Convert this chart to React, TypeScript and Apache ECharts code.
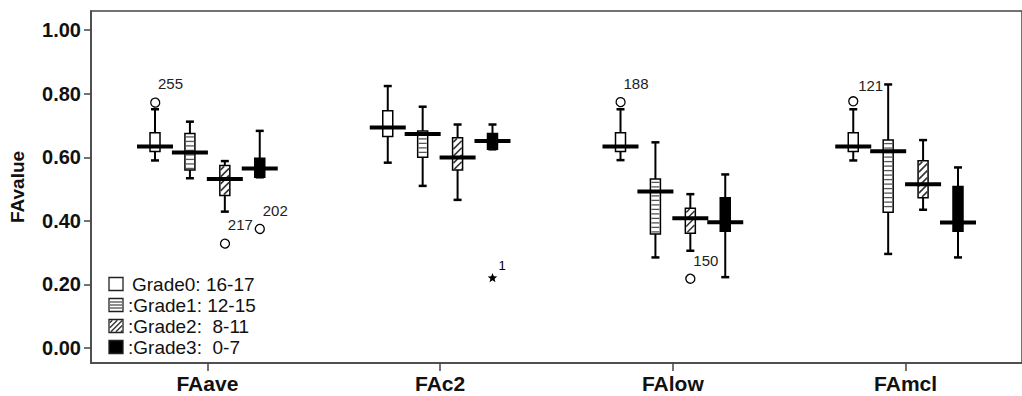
import React, { useEffect, useRef } from 'react';
import * as echarts from 'echarts';

const categories = ['FAave', 'FAc2', 'FAlow', 'FAmcl'];
const gradeNames = ['Grade0: 16-17', 'Grade1: 12-15', 'Grade2:  8-11', 'Grade3:  0-7'];

// [min, Q1, median, Q3, max] for each category
const grade0 = [
  [0.590, 0.618, 0.634, 0.677, 0.751],
  [0.583, 0.665, 0.694, 0.746, 0.824],
  [0.591, 0.618, 0.634, 0.677, 0.751],
  [0.590, 0.618, 0.634, 0.677, 0.751],
];
const grade1 = [
  [0.534, 0.560, 0.615, 0.675, 0.712],
  [0.510, 0.600, 0.673, 0.683, 0.759],
  [0.285, 0.359, 0.492, 0.532, 0.647],
  [0.296, 0.427, 0.619, 0.654, 0.829],
];
const grade2 = [
  [0.429, 0.480, 0.532, 0.574, 0.588],
  [0.466, 0.560, 0.599, 0.661, 0.703],
  [0.306, 0.361, 0.408, 0.440, 0.484],
  [0.435, 0.473, 0.515, 0.589, 0.654],
];
const grade3 = [
  [0.537, 0.537, 0.565, 0.597, 0.683],
  [0.625, 0.625, 0.651, 0.675, 0.703],
  [0.223, 0.367, 0.396, 0.473, 0.546],
  [0.285, 0.367, 0.395, 0.508, 0.568],
];
const grades = [grade0, grade1, grade2, grade3];

// outliers: [categoryIndex, gradeIndex, value, case label, kind]
const outliers: [number, number, number, string, string][] = [
  [0, 0, 0.776, '255', 'circle'],
  [0, 2, 0.332, '217', 'circle'],
  [0, 3, 0.377, '202', 'circle'],
  [1, 3, 0.220, '1', 'star'],
  [2, 0, 0.776, '188', 'circle'],
  [2, 2, 0.220, '150', 'circle'],
  [3, 0, 0.776, '', 'circle'],
  [3, 1, 0.829, '121', 'none'],
];

const yTicks = [0, 0.2, 0.4, 0.6, 0.8, 1.0];

const FONT = 'Liberation Sans, Arial, sans-serif';

function diagSegments(x0: number, y0: number, x1: number, y1: number, step: number) {
  const segs: any[] = [];
  for (let c = x0 + y0 + step / 2; c < x1 + y1; c += step) {
    const xa = Math.max(x0, c - y1);
    const xb = Math.min(x1, c - y0);
    if (xa < xb) segs.push({ x1: xa, y1: c - xa, x2: xb, y2: c - xb });
  }
  return segs;
}

function gradeOffset(gi: number, band: number) {
  return (gi - 1.5) * band * 0.15;
}

function makeBoxRenderer(gi: number) {
  return (params: any, api: any) => {
    const ci = api.value(0);
    const band = api.size([1, 0])[0];
    const cx = api.coord([ci, 0])[0] + gradeOffset(gi, band);
    const y = (v: number) => api.coord([ci, v])[1];
    const yMin = y(api.value(1));
    const yQ1 = y(api.value(2));
    const yMed = y(api.value(3));
    const yQ3 = y(api.value(4));
    const yMax = y(api.value(5));
    const bw = 10, cw = 8, mw = 36;
    const children: any[] = [];
    children.push({ type: 'line', shape: { x1: cx, y1: yMax, x2: cx, y2: yMin }, style: { stroke: '#000', lineWidth: 2 } });
    children.push({ type: 'line', shape: { x1: cx - cw / 2, y1: yMax, x2: cx + cw / 2, y2: yMax }, style: { stroke: '#000', lineWidth: 2.5 } });
    children.push({ type: 'line', shape: { x1: cx - cw / 2, y1: yMin, x2: cx + cw / 2, y2: yMin }, style: { stroke: '#000', lineWidth: 2.5 } });
    const bx0 = cx - bw / 2, bx1 = cx + bw / 2;
    children.push({
      type: 'rect',
      shape: { x: bx0, y: yQ3, width: bw, height: yQ1 - yQ3 },
      style: { fill: gi === 3 ? '#000' : '#fff', stroke: '#000', lineWidth: 1.5 },
    });
    if (gi === 1) {
      for (let yy = yQ3 + 3.5; yy < yQ1 - 1.5; yy += 4.5) {
        children.push({ type: 'line', shape: { x1: bx0 + 1, y1: yy, x2: bx1 - 1, y2: yy }, style: { stroke: '#555', lineWidth: 1.3 } });
      }
    }
    if (gi === 2) {
      diagSegments(bx0 + 0.8, yQ3 + 0.8, bx1 - 0.8, yQ1 - 0.8, 7).forEach((s) => {
        children.push({ type: 'line', shape: s, style: { stroke: '#333', lineWidth: 1.6 } });
      });
    }
    children.push({ type: 'line', shape: { x1: cx - mw / 2, y1: yMed, x2: cx + mw / 2, y2: yMed }, style: { stroke: '#000', lineWidth: 4 } });
    return { type: 'group', children };
  };
}

function starPoints(cx: number, cy: number, ro: number, ri: number) {
  const pts: number[][] = [];
  for (let i = 0; i < 10; i++) {
    const r = i % 2 === 0 ? ro : ri;
    const a = -Math.PI / 2 + (i * Math.PI) / 5;
    pts.push([cx + r * Math.cos(a), cy + r * Math.sin(a)]);
  }
  return pts;
}

function renderOutlier(params: any, api: any) {
  const ci = api.value(0);
  const gi = api.value(1);
  const v = api.value(2);
  const o = outliers[params.dataIndex];
  const label = o[3];
  const kind = o[4];
  const band = api.size([1, 0])[0];
  const cx = api.coord([ci, 0])[0] + gradeOffset(gi, band);
  const cy = api.coord([ci, v])[1];
  const children: any[] = [];
  const txtStyle = { fontSize: 15, fontFamily: FONT, fill: '#222', textVerticalAlign: 'middle' };
  if (kind === 'circle') {
    children.push({ type: 'circle', shape: { cx, cy, r: 4.5 }, style: { fill: '#fff', stroke: '#000', lineWidth: 1.3 } });
    if (label) children.push({ type: 'text', style: { ...txtStyle, text: label, x: cx + 3, y: cy - 18, textAlign: 'left' } });
  } else if (kind === 'star') {
    children.push({ type: 'polygon', shape: { points: starPoints(cx, cy, 5, 2.2) }, style: { fill: '#000' } });
    children.push({ type: 'text', style: { ...txtStyle, fill: '#000', fontSize: 13, text: label, x: cx + 6, y: cy - 13, textAlign: 'left' } });
  } else {
    children.push({ type: 'text', style: { ...txtStyle, text: label, x: cx - 5, y: cy + 1, textAlign: 'right' } });
  }
  return { type: 'group', children };
}

function legendGraphics() {
  const items: any[] = [];
  const x0 = 109, w = 14, h = 13;
  gradeNames.forEach((name, i) => {
    const cy = 284 + i * 21;
    const y0 = cy - h / 2;
    items.push({ type: 'rect', shape: { x: x0, y: y0, width: w, height: h }, style: { fill: i === 3 ? '#000' : '#fff', stroke: '#222', lineWidth: 1.3 } });
    if (i === 1) {
      [3.5, 6.5, 9.5].forEach((d) => items.push({ type: 'line', shape: { x1: x0 + 1, y1: y0 + d, x2: x0 + w - 1, y2: y0 + d }, style: { stroke: '#444', lineWidth: 1.2 } }));
    }
    if (i === 2) {
      diagSegments(x0 + 0.8, y0 + 0.8, x0 + w - 0.8, y0 + h - 0.8, 5).forEach((s) => items.push({ type: 'line', shape: s, style: { stroke: '#333', lineWidth: 1.4 } }));
    }
    items.push({
      type: 'text',
      style: {
        text: i === 0 ? name : ':' + name,
        x: i === 0 ? 132 : 128,
        y: cy,
        textVerticalAlign: 'middle',
        fontSize: 19,
        fontFamily: FONT,
        fill: '#111',
      },
    });
  });
  return items;
}

export default function App() {
  const ref = useRef<HTMLDivElement>(null);
  useEffect(() => {
    if (!ref.current) return;
    const chart = echarts.init(ref.current, undefined, { renderer: 'svg' });
    const boxSeries = grades.map((g, gi) => ({
      type: 'custom',
      name: gradeNames[gi],
      renderItem: makeBoxRenderer(gi),
      encode: { x: 0, y: [1, 2, 3, 4, 5] },
      data: categories.map((_, ci) => [ci, ...g[ci]]),
      z: 3,
    }));
    const option: any = {
      animation: false,
      backgroundColor: '#fff',
      grid: { left: 85.5, top: 11, right: -11.5, bottom: 33, show: true, borderColor: '#444', borderWidth: 1.5 },
      xAxis: {
        type: 'category',
        data: categories,
        boundaryGap: true,
        axisLine: { show: true, onZero: false, lineStyle: { color: '#444', width: 1.5 } },
        axisTick: { show: true, alignWithLabel: true, length: 8, lineStyle: { color: '#444', width: 1.5 } },
        axisLabel: { fontSize: 21, fontWeight: 'bold', fontFamily: FONT, color: '#111', margin: 10 },
        splitLine: { show: false },
      },
      yAxis: {
        type: 'value',
        min: -0.047,
        max: 1.06,
        name: 'FAvalue',
        nameLocation: 'middle',
        nameGap: 64,
        nameTextStyle: { fontSize: 19, fontWeight: 'bold', fontFamily: FONT, color: '#111' },
        axisLine: { show: true, onZero: false, lineStyle: { color: '#444', width: 1.5 } },
        axisTick: { show: true, length: 7, customValues: yTicks, lineStyle: { color: '#444', width: 1.5 } },
        axisLabel: {
          customValues: yTicks,
          fontSize: 20,
          fontWeight: 'bold',
          fontFamily: FONT,
          color: '#111',
          margin: 10,
          formatter: (v: number) => v.toFixed(2),
        },
        splitLine: { show: false },
      },
      graphic: legendGraphics(),
      series: [
        ...boxSeries,
        {
          type: 'custom',
          name: 'outliers',
          renderItem: renderOutlier,
          encode: { x: 0, y: 2 },
          data: outliers.map((o) => [o[0], o[1], o[2]]),
          z: 4,
        },
      ],
    };
    chart.setOption(option);
    return () => chart.dispose();
  }, []);
  return <div ref={ref} style={{ position: 'absolute', left: 0, top: 0, width: 1022, height: 396 }} />;
}
